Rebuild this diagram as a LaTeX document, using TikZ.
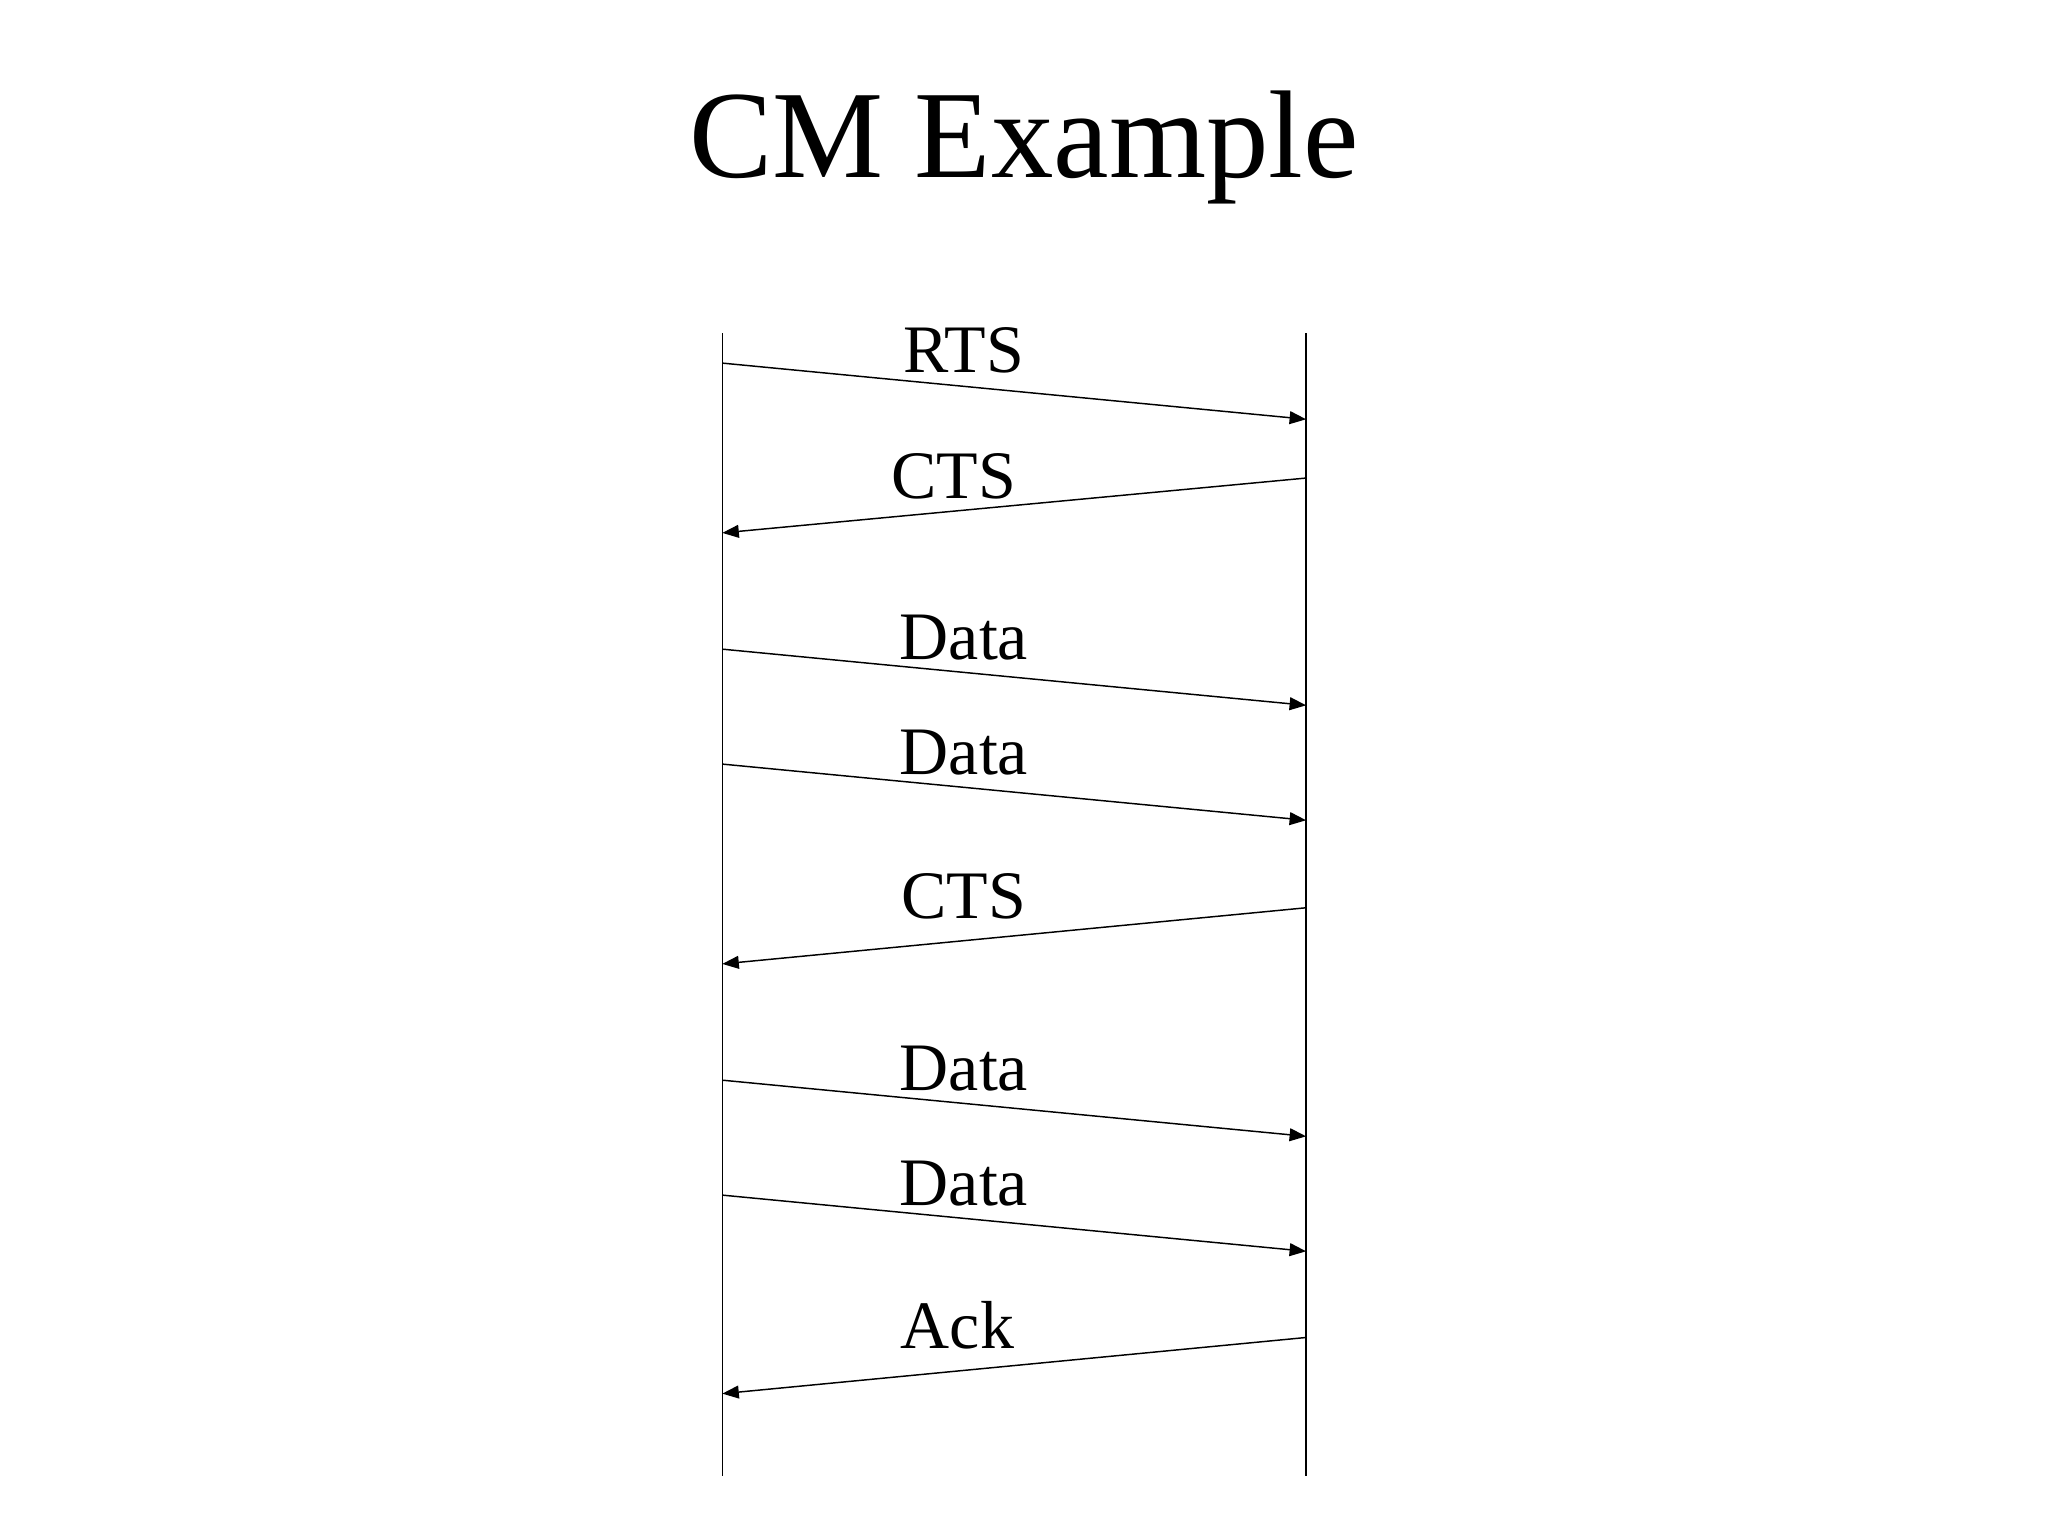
\documentclass[tikz,border=0pt]{standalone}
\usepackage{fontspec}
\setmainfont{Liberation Serif}
\usetikzlibrary{arrows.meta}
\begin{document}
\begin{tikzpicture}[x=0.05cm,y=-0.05cm,
  msg/.style={line width=1.6pt,-{Triangle[length=18pt,width=14pt]}},
  life/.style={line width=1.6pt},
  lbl/.style={inner sep=0pt,font=\fontsize{74}{80}\selectfont}]
\useasboundingbox (0,0) rectangle (1568,1176);
\node[inner sep=0pt,font=\fontsize{136}{150}\selectfont] (title) at (784,113) {CM Example};
\coordinate (lt) at (553,255); \coordinate (lb) at (553,1130);
\coordinate (rt) at (1000,255); \coordinate (rb) at (1000,1130);
\draw[life] (lt) -- (lb); \draw[life] (rt) -- (rb);
\foreach \ya/\yb/\dir/\t/\lx/\ly [count=\i] in {
 278/321/r/RTS/738/268,
 366/408/l/CTS/730/365,
 497/540/r/Data/738/488,
 585/628/r/Data/738/576,
 695/738/l/CTS/738/686,
 827/870/r/Data/738/818,
 915/958/r/Data/738/906,
 1024/1067/l/Ack/733/1015}{
 \if r\dir
   \coordinate (s\i) at (553,\ya); \coordinate (e\i) at (1000,\yb);
 \else
   \coordinate (s\i) at (1000,\ya); \coordinate (e\i) at (553,\yb);
 \fi
 \draw[msg] (s\i) -- (e\i);
 \node[lbl] (m\i) at (\lx,\ly) {\t};
}
\end{tikzpicture}
\end{document}
